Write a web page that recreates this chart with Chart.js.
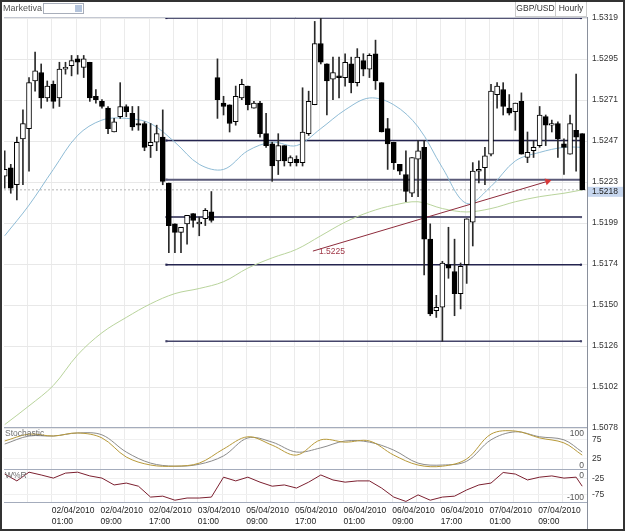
<!DOCTYPE html>
<html>
<head>
<meta charset="utf-8">
<title>GBP/USD Hourly</title>
<script src="https://cdn.jsdelivr.net/npm/chart.js@4.4.1/dist/chart.umd.min.js"></script>
<style>
  html, body { margin: 0; padding: 0; background: #fff; }
  canvas { display: block; }
</style>
</head>
<body>
<canvas id="chart" width="625" height="531"></canvas>
<script>
// hourly GBP/USD candles, 01/04/2010 17:00 .. 07/04/2010
var opens = [1.5226,1.5231,1.5221,1.5248,1.5254,1.5282,1.5287,1.5272,1.5280,1.5272,
  1.5289,1.5291,1.5295,1.5290,1.5293,1.5273,1.5270,1.5266,1.5252,1.5261,
  1.5267,1.5263,1.5257,1.5257,1.5244,1.5246,1.5249,1.5222,1.5198,1.5193,
  1.5198,1.5204,1.5198,1.5201,1.5205,1.5284,1.5269,1.5268,1.5258,1.5272,
  1.5279,1.5266,1.5269,1.5251,1.5245,1.5235,1.5244,1.5234,1.5236,1.5234,
  1.5251,1.5268,1.5304,1.5292,1.5283,1.5285,1.5284,1.5292,1.5281,1.5294,
  1.5289,1.5298,1.5281,1.5254,1.5246,1.5233,1.5227,1.5216,1.5236,1.5243,
  1.5189,1.5147,1.5149,1.5174,1.5170,1.5157,1.5174,1.5199,1.5229,1.5231,
  1.5239,1.5274,1.5277,1.5266,1.5264,1.5270,1.5237,1.5241,1.5244,1.5261,
  1.5256,1.5257,1.5245,1.5239,1.5253,1.5251];
var highs = [1.5241,1.5233,1.5249,1.5265,1.5284,1.5299,1.5292,1.5282,1.5282,1.5293,
  1.5293,1.5297,1.5297,1.5297,1.5293,1.5277,1.5271,1.5267,1.5260,1.5281,
  1.5268,1.5267,1.5267,1.5258,1.5257,1.5256,1.5265,1.5222,1.5198,1.5196,
  1.5203,1.5204,1.5202,1.5207,1.5217,1.5295,1.5273,1.5268,1.5279,1.5283,
  1.5279,1.5270,1.5270,1.5263,1.5246,1.5251,1.5244,1.5238,1.5238,1.5278,
  1.5276,1.5317,1.5319,1.5292,1.5296,1.5296,1.5298,1.5296,1.5301,1.5298,
  1.5298,1.5306,1.5281,1.5260,1.5246,1.5233,1.5241,1.5237,1.5247,1.5247,
  1.5198,1.5156,1.5176,1.5196,1.5189,1.5175,1.5201,1.5234,1.5235,1.5243,
  1.5280,1.5281,1.5281,1.5274,1.5269,1.5275,1.5252,1.5247,1.5267,1.5262,
  1.5259,1.5258,1.5248,1.5262,1.5286,1.5251];
var lows = [1.5219,1.5216,1.5212,1.5221,1.5229,1.5276,1.5266,1.5270,1.5266,1.5267,
  1.5286,1.5285,1.5286,1.5284,1.5270,1.5269,1.5266,1.5251,1.5252,1.5260,
  1.5261,1.5253,1.5253,1.5241,1.5237,1.5241,1.5221,1.5181,1.5181,1.5181,
  1.5186,1.5196,1.5191,1.5197,1.5199,1.5260,1.5262,1.5252,1.5256,1.5271,
  1.5265,1.5266,1.5249,1.5243,1.5223,1.5227,1.5232,1.5232,1.5232,1.5232,
  1.5250,1.5268,1.5292,1.5262,1.5271,1.5272,1.5279,1.5275,1.5279,1.5285,
  1.5284,1.5277,1.5252,1.5230,1.5230,1.5227,1.5211,1.5214,1.5214,1.5168,
  1.5144,1.5143,1.5129,1.5166,1.5144,1.5148,1.5163,1.5185,1.5222,1.5221,
  1.5238,1.5266,1.5262,1.5262,1.5253,1.5239,1.5234,1.5237,1.5243,1.5244,
  1.5252,1.5237,1.5227,1.5239,1.5229,1.5218];
var closes = [1.5230,1.5219,1.5246,1.5257,1.5281,1.5288,1.5272,1.5279,1.5270,1.5289,
  1.5290,1.5294,1.5293,1.5295,1.5272,1.5271,1.5267,1.5254,1.5258,1.5267,
  1.5264,1.5255,1.5256,1.5243,1.5246,1.5251,1.5223,1.5197,1.5193,1.5196,
  1.5203,1.5200,1.5199,1.5206,1.5200,1.5271,1.5267,1.5257,1.5273,1.5280,
  1.5268,1.5269,1.5251,1.5244,1.5232,1.5244,1.5235,1.5237,1.5234,1.5252,
  1.5270,1.5304,1.5293,1.5282,1.5287,1.5284,1.5293,1.5281,1.5296,1.5289,
  1.5297,1.5282,1.5252,1.5245,1.5234,1.5229,1.5217,1.5237,1.5241,1.5189,
  1.5145,1.5149,1.5175,1.5172,1.5157,1.5173,1.5201,1.5229,1.5230,1.5238,
  1.5276,1.5279,1.5267,1.5263,1.5269,1.5239,1.5240,1.5243,1.5262,1.5256,
  1.5257,1.5248,1.5243,1.5257,1.5249,1.5218];

// moving averages, read every 4th candle (last one at candle 95)
var maFast = [1.5191,1.5209,1.5230,1.5250,1.5259,1.5260,1.5257,1.5246,1.5233,1.5230,
  1.5241,1.5246,1.5244,1.5254,1.5265,1.5272,1.5268,1.5255,1.5231,1.5210,
  1.5220,1.5235,1.5240,1.5243,1.5243];
var maSlow = [1.5080,1.5091,1.5103,1.5121,1.5134,1.5143,1.5151,1.5157,1.5160,1.5164,
  1.5172,1.5178,1.5183,1.5191,1.5199,1.5205,1.5209,1.5211,1.5207,1.5205,
  1.5207,1.5211,1.5214,1.5216,1.5218];

// stochastic %K / %D, every 4th candle
var stochK = [71,89,84,92,79,29,8,5,13,50,82,60,34,74,68,71,34,8,5,24,89,97,79,66,34];
var stochD = [63,84,84,92,87,42,13,5,10,32,79,68,42,53,71,68,47,13,8,18,74,95,82,74,42];

// williams %R, every 2nd candle
var willR = [-10,-32,-4,-13,-23,-7,-4,-16,-23,-45,-39,-49,-84,-81,-94,-87,-87,-84,-20,-32,
  -20,-36,-49,-45,-55,-36,-13,-29,-36,-32,-32,-55,-84,-98,-77,-94,-84,-81,-61,-45,
  -39,-5,-10,-29,-20,-16,-23,-20,-49];

// drawn objects
var levels = [1.5319, 1.5247, 1.5224, 1.5202, 1.5174, 1.5129];
var levelColors = ['#24244f', '#24244f', '#5a5a78', '#5a5a78', '#24244f', '#45456a'];
var levelFrom = 26.6, levelTo = 94.8;
var trendX = [50.7, 89.3];
var trendY = [1.5182, 1.5223];
var trendLabel = '1.5225';
var lastPrice = 1.5218;

// axes
var priceTicks = [1.5078, 1.51021, 1.51262, 1.51503, 1.51744, 1.51985, 1.52226, 1.52467, 1.52708, 1.52949, 1.5319];
var priceLabels = ['1.5078','1.5102','1.5126','1.5150','1.5174','1.5199','1.5223','1.5247','1.5271','1.5295','1.5319'];
var gridIdx = [4,8,12,16,20,24,28,32,36,40,44,48,52,56,60,64,68,72,76,80,84,88,92];
var labelIdx = [8,16,24,32,40,48,56,64,72,80,88];
var labelDates = ['02/04/2010','02/04/2010','02/04/2010','03/04/2010','05/04/2010','05/04/2010','06/04/2010','06/04/2010','06/04/2010','07/04/2010','07/04/2010'];
var labelTimes = ['01:00','09:00','17:00','01:00','09:00','17:00','01:00','09:00','17:00','01:00','09:00'];

var FONT = 'Liberation Sans, Arial, sans-serif';
var last = closes.length - 1;

function every(arr, step) {
  return arr.map(function (v, k) { return { x: Math.min(k * step, last), y: v }; });
}

var datasets = [
  {
    type: 'bar', label: 'body', yAxisID: 'y', order: 0, grouped: false,
    data: closes.map(function (c, i) { return { x: i, y: [opens[i], c] }; }),
    backgroundColor: closes.map(function (c, i) { return c >= opens[i] ? '#ffffff' : '#000000'; }),
    borderColor: '#000000', borderWidth: 1, borderSkipped: false, barThickness: 5
  },
  {
    type: 'bar', label: 'wick', yAxisID: 'y', order: 1, grouped: false,
    data: highs.map(function (h, i) { return { x: i, y: [lows[i], h] }; }),
    backgroundColor: '#2a2a2a', borderWidth: 0, barThickness: 1
  },
  {
    label: 'trend', yAxisID: 'y', order: 2,
    data: [{ x: trendX[0], y: trendY[0] }, { x: trendX[1], y: trendY[1] }],
    borderColor: '#8e2c3c', borderWidth: 1,
    pointRadius: [0, 4], pointStyle: 'triangle', pointRotation: [0, 73],
    pointBackgroundColor: '#d83838', pointBorderWidth: 0
  },
  {
    label: 'ma fast', yAxisID: 'y', order: 3, data: every(maFast, 4),
    borderColor: '#8fbcd6', borderWidth: 1, pointRadius: 0, tension: 0.35
  },
  {
    label: 'ma slow', yAxisID: 'y', order: 3, data: every(maSlow, 4),
    borderColor: '#b9d49c', borderWidth: 1, pointRadius: 0, tension: 0.35
  },
  {
    label: 'last', yAxisID: 'y', order: 5,
    data: [{ x: -0.115, y: lastPrice }, { x: 95.79, y: lastPrice }],
    borderColor: '#b4b4b4', borderWidth: 1, borderDash: [2, 2], pointRadius: 0
  },
  {
    label: '%K', yAxisID: 'yS', order: 3, data: every(stochK, 4),
    borderColor: '#b89a3a', borderWidth: 1, pointRadius: 0, tension: 0.35
  },
  {
    label: '%D', yAxisID: 'yS', order: 4, data: every(stochD, 4),
    borderColor: '#8c8c8c', borderWidth: 1, pointRadius: 0, tension: 0.35
  },
  {
    label: 'W%R', yAxisID: 'yW', order: 3, data: every(willR, 2),
    borderColor: '#7c2030', borderWidth: 1, pointRadius: 0, tension: 0
  }
];

levels.forEach(function (lv, k) {
  datasets.push({
    label: 'level ' + lv, yAxisID: 'y', order: 4,
    data: [{ x: levelFrom, y: lv }, { x: levelTo, y: lv }],
    borderColor: levelColors[k], borderWidth: k === 2 || k === 3 ? 2 : 1.5,
    pointRadius: 1.5, pointStyle: 'rect', pointBackgroundColor: levelColors[k], pointBorderWidth: 0
  });
});

function rightAxis(extra) {
  var base = {
    type: 'linear', position: 'right', stack: 'panes',
    border: { display: false },
    grid: { color: '#e8e8e8', drawTicks: false },
    ticks: { padding: 5, color: '#333', font: { family: FONT, size: 8.5 } },
    afterFit: function (s) { s.width = 38; }
  };
  return Object.assign(base, extra);
}

var decor = {
  id: 'decor',
  beforeDraw: function (chart) {
    var c = chart.ctx;
    c.save();
    c.fillStyle = '#ffffff';
    c.fillRect(0, 0, chart.width, chart.height);
    c.restore();
  },
  afterDatasetsDraw: function (chart) {
    var c = chart.ctx, a = chart.chartArea;
    var y = chart.scales.y, ys = chart.scales.yS, yw = chart.scales.yW, x = chart.scales.x;
    c.save();
    c.lineWidth = 1;
    c.strokeStyle = '#c4c8d2';
    c.beginPath();
    c.moveTo(a.left, Math.round(a.top) + 0.5);
    c.lineTo(a.right, Math.round(a.top) + 0.5);
    c.stroke();
    c.strokeStyle = '#a4acbc';
    [ys.top, yw.top, yw.bottom].forEach(function (v) {
      c.beginPath();
      c.moveTo(a.left, Math.round(v) - 0.5);
      c.lineTo(a.right, Math.round(v) - 0.5);
      c.stroke();
    });

    c.font = '8.5px ' + FONT;
    c.textBaseline = 'middle';
    c.fillStyle = '#555';
    c.textAlign = 'right';
    c.fillText('100', a.right - 3, ys.getPixelForValue(100) + 4);
    c.fillText('0', a.right - 3, ys.getPixelForValue(0) - 2);
    c.fillText('0', a.right - 3, yw.getPixelForValue(0) + 5);
    c.fillText('-100', a.right - 3, yw.getPixelForValue(-100) - 4);

    c.textAlign = 'left';
    c.fillStyle = '#707070';
    c.fillText('Stochastic', a.left + 1, ys.top + 6);
    c.fillText('W%R', a.left + 1, yw.top + 6);

    c.fillStyle = '#a03848';
    c.fillText(trendLabel, x.getPixelForValue(trendX[0]) + 6, y.getPixelForValue(trendY[0]) + 1);
    c.restore();
  },
  afterDraw: function (chart) {
    var c = chart.ctx, a = chart.chartArea, y = chart.scales.y;
    c.save();
    // axis separator
    c.strokeStyle = '#8a909c';
    c.lineWidth = 1;
    c.beginPath();
    c.moveTo(Math.round(a.right) + 0.5, a.top);
    c.lineTo(Math.round(a.right) + 0.5, chart.height);
    c.stroke();

    // last price tag
    var py = y.getPixelForValue(lastPrice);
    c.fillStyle = '#c6d6ee';
    c.fillRect(a.right + 1, py - 3, chart.width - a.right - 2, 10);
    c.fillStyle = '#222';
    c.font = '8.5px ' + FONT;
    c.textBaseline = 'middle';
    c.textAlign = 'left';
    c.fillText(lastPrice.toFixed(4), a.right + 5, py + 2);

    // header
    c.fillStyle = '#555';
    c.font = '9px ' + FONT;
    c.fillText('Marketiva', 3, 9);
    c.fillStyle = '#fff';
    c.fillRect(43, 3, 40, 11);
    c.strokeStyle = '#a8aeba';
    c.strokeRect(43.5, 3.5, 40, 10);
    c.fillStyle = '#b4c4dc';
    c.fillRect(75, 5, 7, 7);

    c.strokeStyle = '#cccccc';
    c.strokeRect(515.5, 0.5, 40, 16);
    c.strokeRect(555.5, 0.5, 31, 16);
    c.fillStyle = '#333';
    c.font = '8.5px ' + FONT;
    c.textAlign = 'center';
    c.fillText('GBP/USD', 535.5, 9);
    c.fillText('Hourly', 571, 9);

    // frame
    c.strokeStyle = '#333';
    c.lineWidth = 2;
    c.strokeRect(1, 1, chart.width - 2, chart.height - 2);
    c.restore();
  }
};

new Chart(document.getElementById('chart'), {
  type: 'line',
  data: { datasets: datasets },
  options: {
    responsive: false,
    animation: false,
    events: [],
    layout: { padding: { top: 17, left: 2, right: 0, bottom: 0 } },
    plugins: { legend: { display: false }, tooltip: { enabled: false } },
    scales: {
      x: {
        type: 'linear', min: -0.115, max: 95.79, offset: false,
        border: { display: false },
        grid: { color: '#ebebeb', drawTicks: false, offset: false },
        afterBuildTicks: function (s) {
          s.ticks = gridIdx.map(function (v) { return { value: v - 0.25 }; });
        },
        afterFit: function (s) { s.height = 28; },
        ticks: {
          autoSkip: false, maxRotation: 0, align: 'start', padding: 3, color: '#222',
          font: { family: FONT, size: 8.5, lineHeight: 1.2 },
          callback: function (v) {
            var k = labelIdx.indexOf(Math.round(v + 0.25));
            return k < 0 ? '' : [labelDates[k], labelTimes[k]];
          }
        }
      },
      y: rightAxis({
        stackWeight: 411, min: 1.5078, max: 1.53196,
        afterBuildTicks: function (s) {
          s.ticks = priceTicks.map(function (v) { return { value: v }; });
        },
        ticks: {
          padding: 5, color: '#333', font: { family: FONT, size: 8.5 },
          callback: function (v, i) { return priceLabels[i]; }
        }
      }),
      yS: rightAxis({
        stackWeight: 42, min: -5, max: 105,
        grid: { color: '#f0f0f0', drawTicks: false },
        afterBuildTicks: function (s) { s.ticks = [{ value: 75 }, { value: 25 }]; }
      }),
      yW: rightAxis({
        stackWeight: 33, min: -103, max: 3,
        grid: { color: '#f0f0f0', drawTicks: false },
        afterBuildTicks: function (s) { s.ticks = [{ value: -25 }, { value: -75 }]; }
      })
    }
  },
  plugins: [decor]
});
</script>
</body>
</html>
